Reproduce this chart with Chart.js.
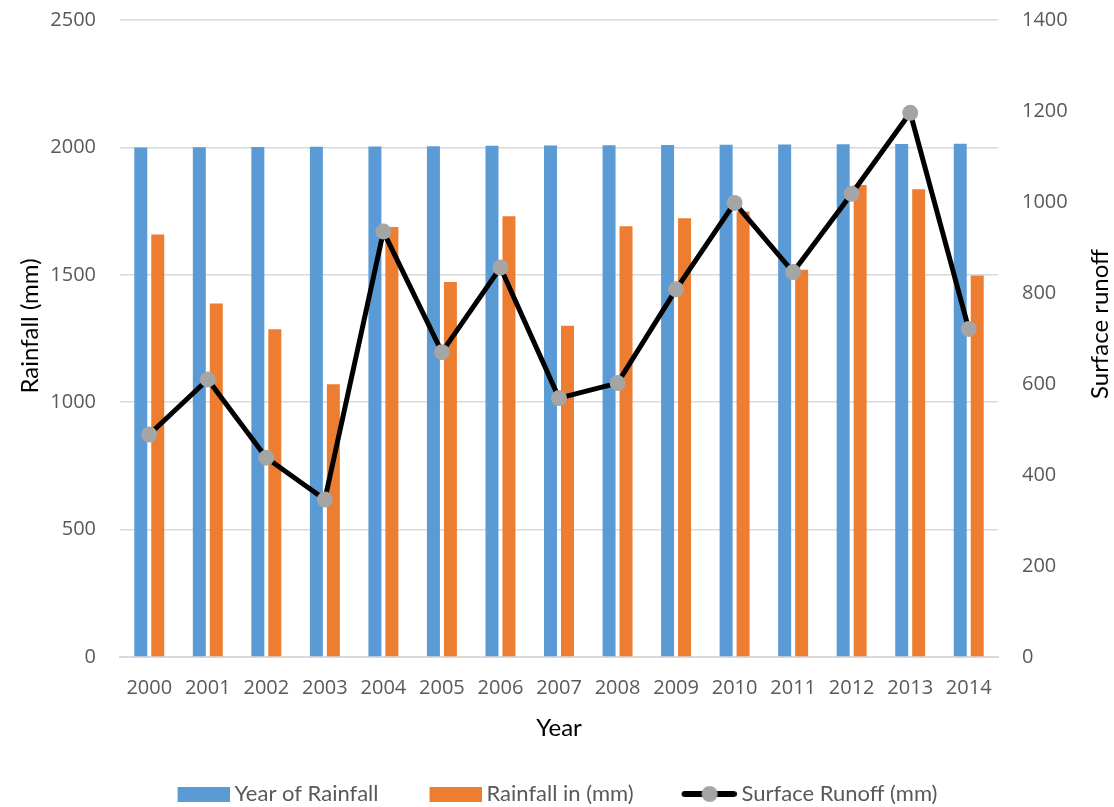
<!DOCTYPE html>
<html>
<head>
<meta charset="utf-8">
<script src="https://cdn.jsdelivr.net/npm/chart.js@4/dist/chart.umd.min.js"></script>
<style>
html,body{margin:0;padding:0;background:#fff;}
#wrap{width:1114px;height:807px;position:relative;}
</style>
</head>
<body>
<div id="wrap"><canvas id="c" width="1114" height="807"></canvas></div>
<script>
const years = ['2000','2001','2002','2003','2004','2005','2006','2007','2008','2009','2010','2011','2012','2013','2014'];
const yearOfRainfall = [2000,2001,2002,2003,2004,2005,2006,2007,2008,2009,2010,2011,2012,2013,2014];
const rainfallMm = [1658,1387,1286,1070,1688,1472,1730,1300,1691,1722,1748,1520,1852,1836,1497];
const surfaceRunoff = [489,610,438,346,935,670,856,569,602,808,998,846,1018,1196,721];
const leftTicks = [0,500,1000,1500,2000,2500];
const rightTicks = [0,200,400,600,800,1000,1200,1400];

const BLUE = '#5b9bd5', ORANGE = '#ed7d31', GREY = '#a5a5a5';
const TICK_FONT = {family:'"Open Sans", sans-serif', size:20};

function boxIcon(color){
  const c = document.createElement('canvas');
  c.width = 59; c.height = 16;
  const g = c.getContext('2d');
  g.fillStyle = color;
  g.fillRect(7, 1, 52, 15);
  return c;
}
function lineIcon(){
  const c = document.createElement('canvas');
  c.width = 59; c.height = 20;
  const g = c.getContext('2d');
  g.strokeStyle = '#000'; g.lineWidth = 6; g.lineCap = 'round';
  g.beginPath(); g.moveTo(7, 10); g.lineTo(56, 10); g.stroke();
  g.fillStyle = GREY;
  g.beginPath(); g.arc(32, 10, 8, 0, Math.PI*2); g.fill();
  return c;
}
const icons = [boxIcon(BLUE), boxIcon(ORANGE), lineIcon()];

// Vertical axis titles (right one reads bottom-to-top, as in the reference)
const axisTitles = {
  id:'axisTitles',
  afterDraw(chart){
    const ctx = chart.ctx;
    const draw = (text, x, y) => {
      ctx.save();
      ctx.translate(x, y);
      ctx.rotate(-Math.PI/2);
      ctx.font = '24px Lato, sans-serif';
      ctx.fillStyle = '#000';
      ctx.textAlign = 'center';
      ctx.textBaseline = 'middle';
      ctx.fillText(text, 0, 0);
      ctx.restore();
    };
    draw('Rainfall (mm)', 30, 326);
    draw('Surface runoff', 1100, 324);
  }
};

const noPad = s => { s.paddingTop = 0; s.paddingBottom = 0; };

new Chart(document.getElementById('c'), {
  data: {
    labels: years,
    datasets: [
      {type:'bar', label:'Year of Rainfall', data: yearOfRainfall, backgroundColor: BLUE,
       yAxisID:'y', order:1, categoryPercentage:0.58, barPercentage:0.765},
      {type:'bar', label:'Rainfall in (mm)', data: rainfallMm, backgroundColor: ORANGE,
       yAxisID:'y', order:1, categoryPercentage:0.58, barPercentage:0.765},
      {type:'line', label:'Surface Runoff (mm)', data: surfaceRunoff, borderColor:'#000',
       borderWidth:5, pointBackgroundColor: GREY, pointBorderColor: GREY, pointBorderWidth:0,
       pointRadius:8, pointHoverRadius:8, tension:0, yAxisID:'y1', order:0}
    ]
  },
  plugins:[axisTitles],
  options: {
    responsive:false,
    animation:false,
    events:[],
    layout:{padding:{top:20, bottom:-8, left:0, right:0}},
    scales: {
      x: {
        grid:{display:false, drawTicks:false},
        border:{display:true, color:'#d9d9d9', width:2},
        ticks:{font:TICK_FONT, color:'#595959', padding:19, maxRotation:0, autoSkip:false},
        title:{display:true, text:'Year', font:{family:'Lato, sans-serif', size:24, lineHeight:0.4}, color:'#000', padding:0},
        afterFit: s => { s.height = 76; s.paddingLeft = 0; s.paddingRight = 0; }
      },
      y: {
        position:'left', min:0, max:2500,
        afterBuildTicks: s => { s.ticks = leftTicks.map(v => ({value:v})); },
        grid:{color:'#d9d9d9', lineWidth:1.5, drawTicks:false},
        border:{display:false},
        ticks:{font:TICK_FONT, color:'#595959', padding:24, callback: v => String(v)},
        title:{display:false},
        afterFit: s => { s.width = 120; noPad(s); }
      },
      y1: {
        position:'right', min:0, max:1400,
        afterBuildTicks: s => { s.ticks = rightTicks.map(v => ({value:v})); },
        grid:{display:false, drawTicks:false},
        border:{display:false},
        ticks:{font:TICK_FONT, color:'#595959', padding:24, callback: v => String(v)},
        title:{display:false},
        afterFit: s => { s.width = 116; noPad(s); }
      }
    },
    plugins: {
      tooltip:{enabled:false},
      legend: {
        position:'bottom',
        labels: {
          usePointStyle:true,
          pointStyleWidth:47,
          boxHeight:16,
          padding:50,
          color:'#595959',
          font:{family:'Lato, sans-serif', size:22},
          sort:(a, b) => a.datasetIndex - b.datasetIndex,
          generateLabels: chart => {
            const items = Chart.defaults.plugins.legend.labels.generateLabels(chart);
            items.forEach(it => { it.pointStyle = icons[it.datasetIndex]; });
            return items;
          }
        }
      }
    }
  }
});
</script>
</body>
</html>
